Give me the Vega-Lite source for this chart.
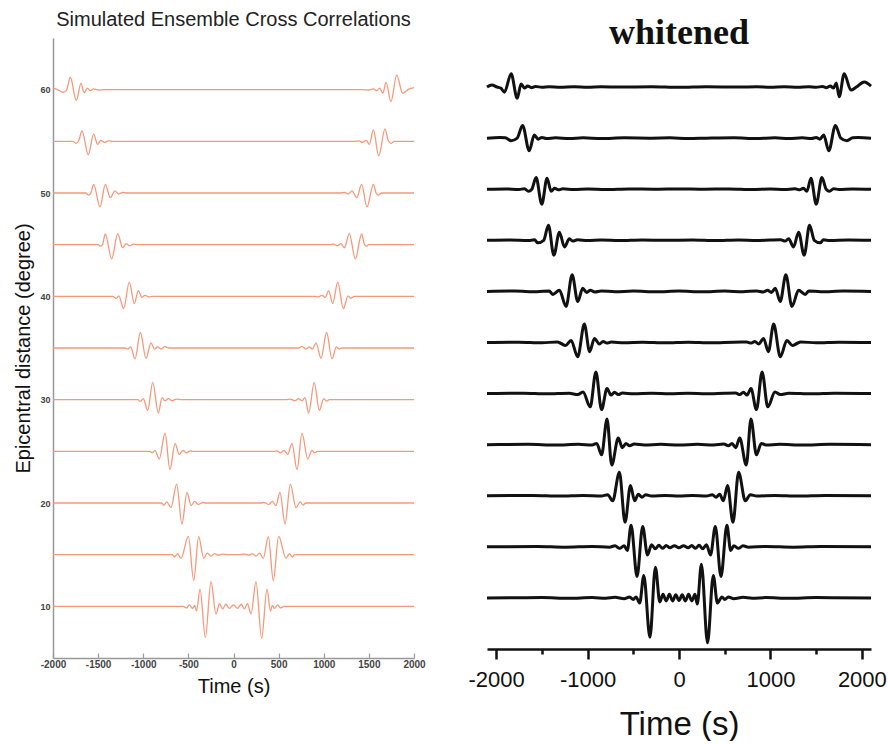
{
"$schema": "https://vega.github.io/schema/vega-lite/v6.json",
"background": "white",
"padding": {"left": 13, "top": 10, "right": 3, "bottom": 0},
"bounds": "flush",
"spacing": 73,
"config": {"view": {"stroke": null}, "font": "Liberation Sans"},
"datasets": {
"L": [
{"d":60,"t":-2000,"y":60.15},{"d":60,"t":-1950,"y":60},{"d":60,"t":-1890,"y":59.75},{"d":60,"t":-1850,"y":59.95},{"d":60,"t":-1808,"y":61.2},{"d":60,"t":-1742,"y":58.94},{"d":60,"t":-1690,"y":60.6},{"d":60,"t":-1655,"y":59.7},{"d":60,"t":-1620,"y":60.15},{"d":60,"t":-1585,"y":59.9},{"d":60,"t":-1550,"y":60.08},{"d":60,"t":-1500,"y":59.97},{"d":60,"t":-1430,"y":60},{"d":60,"t":1430,"y":60},{"d":60,"t":1500,"y":59.97},{"d":60,"t":1550,"y":60.08},{"d":60,"t":1585,"y":59.9},{"d":60,"t":1620,"y":60.15},{"d":60,"t":1655,"y":59.65},{"d":60,"t":1690,"y":60.7},{"d":60,"t":1745,"y":58.84},{"d":60,"t":1808,"y":61.4},{"d":60,"t":1875,"y":59.65},{"d":60,"t":1940,"y":60.05},{"d":60,"t":2000,"y":60.2},
{"d":55,"t":-2000,"y":55},{"d":55,"t":-1780,"y":55},{"d":55,"t":-1745,"y":54.8},{"d":55,"t":-1715,"y":55.05},{"d":55,"t":-1679,"y":56},{"d":55,"t":-1609,"y":53.7},{"d":55,"t":-1550,"y":55.7},{"d":55,"t":-1505,"y":54.7},{"d":55,"t":-1470,"y":55.1},{"d":55,"t":-1430,"y":54.9},{"d":55,"t":-1390,"y":55.05},{"d":55,"t":-1330,"y":55},{"d":55,"t":1330,"y":55},{"d":55,"t":1390,"y":55.05},{"d":55,"t":1430,"y":54.9},{"d":55,"t":1470,"y":55.1},{"d":55,"t":1505,"y":54.7},{"d":55,"t":1550,"y":56.1},{"d":55,"t":1609,"y":53.6},{"d":55,"t":1679,"y":56.2},{"d":55,"t":1715,"y":55.05},{"d":55,"t":1745,"y":54.8},{"d":55,"t":1780,"y":55},{"d":55,"t":2000,"y":55},
{"d":50,"t":-2000,"y":50},{"d":50,"t":-1640,"y":50},{"d":50,"t":-1605,"y":49.8},{"d":50,"t":-1580,"y":50},{"d":50,"t":-1550,"y":50.84},{"d":50,"t":-1479,"y":48.65},{"d":50,"t":-1420,"y":50.84},{"d":50,"t":-1365,"y":49.55},{"d":50,"t":-1313,"y":50.2},{"d":50,"t":-1275,"y":49.9},{"d":50,"t":-1230,"y":50.05},{"d":50,"t":-1170,"y":50},{"d":50,"t":1170,"y":50},{"d":50,"t":1230,"y":50.05},{"d":50,"t":1275,"y":49.9},{"d":50,"t":1313,"y":50.2},{"d":50,"t":1365,"y":49.55},{"d":50,"t":1420,"y":50.84},{"d":50,"t":1479,"y":48.65},{"d":50,"t":1550,"y":50.84},{"d":50,"t":1580,"y":50},{"d":50,"t":1605,"y":49.8},{"d":50,"t":1640,"y":50},{"d":50,"t":2000,"y":50},
{"d":45,"t":-2000,"y":45},{"d":45,"t":-1500,"y":45},{"d":45,"t":-1470,"y":44.85},{"d":45,"t":-1450,"y":45.05},{"d":45,"t":-1420,"y":46.03},{"d":45,"t":-1350,"y":43.62},{"d":45,"t":-1283,"y":46.06},{"d":45,"t":-1228,"y":44.7},{"d":45,"t":-1190,"y":45.1},{"d":45,"t":-1150,"y":44.9},{"d":45,"t":-1110,"y":45.05},{"d":45,"t":-1060,"y":45},{"d":45,"t":1060,"y":45},{"d":45,"t":1110,"y":45.05},{"d":45,"t":1150,"y":44.9},{"d":45,"t":1190,"y":45.1},{"d":45,"t":1228,"y":44.7},{"d":45,"t":1283,"y":46.06},{"d":45,"t":1350,"y":43.62},{"d":45,"t":1420,"y":46.03},{"d":45,"t":1450,"y":45.05},{"d":45,"t":1470,"y":44.85},{"d":45,"t":1500,"y":45},{"d":45,"t":2000,"y":45},
{"d":40,"t":-2000,"y":40},{"d":40,"t":-1340,"y":40},{"d":40,"t":-1300,"y":39.8},{"d":40,"t":-1270,"y":40.05},{"d":40,"t":-1217,"y":38.81},{"d":40,"t":-1155,"y":41.38},{"d":40,"t":-1099,"y":39.3},{"d":40,"t":-1055,"y":40.55},{"d":40,"t":-1015,"y":39.9},{"d":40,"t":-980,"y":40.1},{"d":40,"t":-940,"y":39.95},{"d":40,"t":-900,"y":40},{"d":40,"t":900,"y":40},{"d":40,"t":940,"y":39.95},{"d":40,"t":980,"y":40.1},{"d":40,"t":1015,"y":39.9},{"d":40,"t":1055,"y":40.55},{"d":40,"t":1099,"y":39.3},{"d":40,"t":1155,"y":41.38},{"d":40,"t":1217,"y":38.81},{"d":40,"t":1270,"y":40.05},{"d":40,"t":1300,"y":39.8},{"d":40,"t":1340,"y":40},{"d":40,"t":2000,"y":40},
{"d":35,"t":-2000,"y":35},{"d":35,"t":-1200,"y":35},{"d":35,"t":-1170,"y":34.9},{"d":35,"t":-1140,"y":35.1},{"d":35,"t":-1091,"y":33.94},{"d":35,"t":-1032,"y":36.5},{"d":35,"t":-970,"y":34},{"d":35,"t":-914,"y":35.5},{"d":35,"t":-875,"y":34.9},{"d":35,"t":-840,"y":35.1},{"d":35,"t":-800,"y":34.9},{"d":35,"t":-760,"y":35.15},{"d":35,"t":-720,"y":35},{"d":35,"t":720,"y":35},{"d":35,"t":760,"y":35.15},{"d":35,"t":800,"y":34.9},{"d":35,"t":840,"y":35.1},{"d":35,"t":875,"y":34.9},{"d":35,"t":914,"y":35.5},{"d":35,"t":970,"y":34},{"d":35,"t":1032,"y":36.5},{"d":35,"t":1091,"y":33.94},{"d":35,"t":1140,"y":35.1},{"d":35,"t":1170,"y":34.9},{"d":35,"t":1200,"y":35},{"d":35,"t":2000,"y":35},
{"d":30,"t":-2000,"y":30},{"d":30,"t":-1060,"y":30},{"d":30,"t":-1030,"y":29.85},{"d":30,"t":-1000,"y":30.1},{"d":30,"t":-951,"y":28.97},{"d":30,"t":-895,"y":31.67},{"d":30,"t":-833,"y":28.71},{"d":30,"t":-792,"y":30.2},{"d":30,"t":-760,"y":29.9},{"d":30,"t":-720,"y":30.1},{"d":30,"t":-680,"y":29.9},{"d":30,"t":-630,"y":30.05},{"d":30,"t":-580,"y":30},{"d":30,"t":580,"y":30},{"d":30,"t":630,"y":30.05},{"d":30,"t":680,"y":29.9},{"d":30,"t":720,"y":30.1},{"d":30,"t":760,"y":29.9},{"d":30,"t":792,"y":30.2},{"d":30,"t":833,"y":28.71},{"d":30,"t":895,"y":31.67},{"d":30,"t":951,"y":28.97},{"d":30,"t":1000,"y":30.1},{"d":30,"t":1030,"y":29.85},{"d":30,"t":1060,"y":30},{"d":30,"t":2000,"y":30},
{"d":25,"t":-2000,"y":25},{"d":25,"t":-930,"y":25},{"d":25,"t":-900,"y":24.85},{"d":25,"t":-870,"y":25.1},{"d":25,"t":-822,"y":24.26},{"d":25,"t":-759,"y":26.77},{"d":25,"t":-704,"y":23.23},{"d":25,"t":-648,"y":25.74},{"d":25,"t":-600,"y":24.7},{"d":25,"t":-560,"y":25.1},{"d":25,"t":-520,"y":24.85},{"d":25,"t":-480,"y":25.05},{"d":25,"t":-450,"y":25},{"d":25,"t":450,"y":25},{"d":25,"t":480,"y":25.05},{"d":25,"t":520,"y":24.85},{"d":25,"t":560,"y":25.1},{"d":25,"t":600,"y":24.7},{"d":25,"t":648,"y":25.74},{"d":25,"t":704,"y":23.23},{"d":25,"t":759,"y":26.77},{"d":25,"t":822,"y":24.26},{"d":25,"t":870,"y":25.1},{"d":25,"t":900,"y":24.85},{"d":25,"t":930,"y":25},{"d":25,"t":2000,"y":25},
{"d":20,"t":-2000,"y":20},{"d":20,"t":-800,"y":20},{"d":20,"t":-770,"y":19.8},{"d":20,"t":-740,"y":20.1},{"d":20,"t":-693,"y":19.55},{"d":20,"t":-630,"y":21.83},{"d":20,"t":-571,"y":17.97},{"d":20,"t":-515,"y":21.03},{"d":20,"t":-470,"y":19.75},{"d":20,"t":-430,"y":20.15},{"d":20,"t":-390,"y":19.85},{"d":20,"t":-340,"y":20.05},{"d":20,"t":-300,"y":20},{"d":20,"t":300,"y":20},{"d":20,"t":340,"y":20.05},{"d":20,"t":390,"y":19.85},{"d":20,"t":430,"y":20.15},{"d":20,"t":470,"y":19.75},{"d":20,"t":515,"y":21.03},{"d":20,"t":571,"y":17.97},{"d":20,"t":630,"y":21.83},{"d":20,"t":693,"y":19.55},{"d":20,"t":740,"y":20.1},{"d":20,"t":770,"y":19.8},{"d":20,"t":800,"y":20},{"d":20,"t":2000,"y":20},
{"d":15,"t":-2000,"y":15},{"d":15,"t":-680,"y":15},{"d":15,"t":-650,"y":14.8},{"d":15,"t":-620,"y":15.1},{"d":15,"t":-582,"y":14.65},{"d":15,"t":-500,"y":16.77},{"d":15,"t":-441,"y":12.5},{"d":15,"t":-386,"y":16.74},{"d":15,"t":-330,"y":14.65},{"d":15,"t":-290,"y":15.15},{"d":15,"t":-250,"y":14.85},{"d":15,"t":-210,"y":15.1},{"d":15,"t":-170,"y":14.95},{"d":15,"t":-120,"y":15.05},{"d":15,"t":-60,"y":15},{"d":15,"t":60,"y":15},{"d":15,"t":120,"y":15.05},{"d":15,"t":170,"y":14.95},{"d":15,"t":210,"y":15.1},{"d":15,"t":250,"y":14.85},{"d":15,"t":290,"y":15.15},{"d":15,"t":330,"y":14.65},{"d":15,"t":386,"y":16.74},{"d":15,"t":441,"y":12.5},{"d":15,"t":500,"y":16.77},{"d":15,"t":582,"y":14.65},{"d":15,"t":620,"y":15.1},{"d":15,"t":650,"y":14.8},{"d":15,"t":680,"y":15},{"d":15,"t":2000,"y":15},
{"d":10,"t":-2000,"y":10},{"d":10,"t":-560,"y":10},{"d":10,"t":-520,"y":9.85},{"d":10,"t":-490,"y":10.15},{"d":10,"t":-455,"y":9.8},{"d":10,"t":-430,"y":10.1},{"d":10,"t":-410,"y":9.55},{"d":10,"t":-371,"y":11.67},{"d":10,"t":-312,"y":7},{"d":10,"t":-249,"y":12.4},{"d":10,"t":-194,"y":9.25},{"d":10,"t":-155,"y":10.25},{"d":10,"t":-120,"y":9.75},{"d":10,"t":-85,"y":10.2},{"d":10,"t":-45,"y":9.8},{"d":10,"t":0,"y":10.15},{"d":10,"t":45,"y":9.8},{"d":10,"t":85,"y":10.2},{"d":10,"t":120,"y":9.75},{"d":10,"t":155,"y":10.25},{"d":10,"t":194,"y":9.25},{"d":10,"t":249,"y":12.4},{"d":10,"t":312,"y":6.9},{"d":10,"t":371,"y":11.67},{"d":10,"t":410,"y":9.55},{"d":10,"t":430,"y":10.1},{"d":10,"t":455,"y":9.8},{"d":10,"t":490,"y":10.15},{"d":10,"t":520,"y":9.85},{"d":10,"t":560,"y":10},{"d":10,"t":2000,"y":10}
],
"W": [
{"d":60,"t":-2100,"y":60},{"d":60,"t":-2047,"y":60.2},{"d":60,"t":-1990,"y":60},{"d":60,"t":-1950,"y":59.9},{"d":60,"t":-1909,"y":59.5},{"d":60,"t":-1836,"y":61.3},{"d":60,"t":-1770,"y":58.9},{"d":60,"t":-1727,"y":60.3},{"d":60,"t":-1690,"y":59.9},{"d":60,"t":-1655,"y":60.1},{"d":60,"t":-1615,"y":59.94},{"d":60,"t":-1570,"y":60.06},{"d":60,"t":-1500,"y":59.97},{"d":60,"t":-1420,"y":60.04},{"d":60,"t":-1300,"y":59.97},{"d":60,"t":-1150,"y":60.03},{"d":60,"t":-1000,"y":59.97},{"d":60,"t":-850,"y":60.03},{"d":60,"t":-650,"y":60},{"d":60,"t":-300,"y":60.03},{"d":60,"t":0,"y":59.97},{"d":60,"t":300,"y":60.03},{"d":60,"t":650,"y":60},{"d":60,"t":850,"y":60.03},{"d":60,"t":1000,"y":59.97},{"d":60,"t":1150,"y":60.03},{"d":60,"t":1300,"y":59.97},{"d":60,"t":1420,"y":60.04},{"d":60,"t":1500,"y":59.97},{"d":60,"t":1570,"y":60.06},{"d":60,"t":1615,"y":59.94},{"d":60,"t":1655,"y":60.1},{"d":60,"t":1690,"y":59.9},{"d":60,"t":1720,"y":60.4},{"d":60,"t":1752,"y":59.05},{"d":60,"t":1807,"y":61.3},{"d":60,"t":1880,"y":59.7},{"d":60,"t":1940,"y":60},{"d":60,"t":2025,"y":60.5},{"d":60,"t":2100,"y":60.1},
{"d":55,"t":-2100,"y":55},{"d":55,"t":-1960,"y":55.05},{"d":55,"t":-1900,"y":55.03},{"d":55,"t":-1836,"y":54.75},{"d":55,"t":-1770,"y":55},{"d":55,"t":-1711,"y":56.24},{"d":55,"t":-1638,"y":53.76},{"d":55,"t":-1583,"y":55.3},{"d":55,"t":-1540,"y":54.9},{"d":55,"t":-1500,"y":55.06},{"d":55,"t":-1450,"y":54.96},{"d":55,"t":-1350,"y":55.03},{"d":55,"t":-1200,"y":54.97},{"d":55,"t":-1050,"y":55.03},{"d":55,"t":-850,"y":54.97},{"d":55,"t":-600,"y":55.03},{"d":55,"t":-300,"y":55},{"d":55,"t":-100,"y":55.03},{"d":55,"t":100,"y":54.97},{"d":55,"t":300,"y":55},{"d":55,"t":600,"y":55.03},{"d":55,"t":850,"y":54.97},{"d":55,"t":1050,"y":55.03},{"d":55,"t":1200,"y":54.97},{"d":55,"t":1350,"y":55.03},{"d":55,"t":1450,"y":54.96},{"d":55,"t":1500,"y":55.06},{"d":55,"t":1540,"y":54.9},{"d":55,"t":1583,"y":55.3},{"d":55,"t":1638,"y":53.76},{"d":55,"t":1711,"y":56.24},{"d":55,"t":1770,"y":55},{"d":55,"t":1836,"y":54.75},{"d":55,"t":1900,"y":55.03},{"d":55,"t":1960,"y":55.05},{"d":55,"t":2100,"y":55},
{"d":50,"t":-2100,"y":50},{"d":50,"t":-1900,"y":50.03},{"d":50,"t":-1750,"y":49.97},{"d":50,"t":-1690,"y":50.05},{"d":50,"t":-1647,"y":49.8},{"d":50,"t":-1610,"y":50},{"d":50,"t":-1563,"y":51.14},{"d":50,"t":-1501,"y":48.53},{"d":50,"t":-1443,"y":51.08},{"d":50,"t":-1399,"y":49.8},{"d":50,"t":-1360,"y":50.1},{"d":50,"t":-1320,"y":49.94},{"d":50,"t":-1270,"y":50.04},{"d":50,"t":-1150,"y":49.97},{"d":50,"t":-1000,"y":50.03},{"d":50,"t":-800,"y":49.97},{"d":50,"t":-550,"y":50.03},{"d":50,"t":-250,"y":50},{"d":50,"t":0,"y":50.03},{"d":50,"t":250,"y":50},{"d":50,"t":550,"y":50.03},{"d":50,"t":800,"y":49.97},{"d":50,"t":1000,"y":50.03},{"d":50,"t":1150,"y":49.97},{"d":50,"t":1270,"y":50.04},{"d":50,"t":1320,"y":49.94},{"d":50,"t":1360,"y":50.1},{"d":50,"t":1399,"y":49.8},{"d":50,"t":1443,"y":51.08},{"d":50,"t":1501,"y":48.53},{"d":50,"t":1563,"y":51.14},{"d":50,"t":1610,"y":50},{"d":50,"t":1647,"y":49.8},{"d":50,"t":1690,"y":50.05},{"d":50,"t":1750,"y":49.97},{"d":50,"t":1900,"y":50.03},{"d":50,"t":2100,"y":50},
{"d":45,"t":-2100,"y":45},{"d":45,"t":-1850,"y":45.03},{"d":45,"t":-1650,"y":44.97},{"d":45,"t":-1580,"y":45.05},{"d":45,"t":-1545,"y":44.75},{"d":45,"t":-1480,"y":45},{"d":45,"t":-1428,"y":46.47},{"d":45,"t":-1369,"y":43.53},{"d":45,"t":-1308,"y":45.8},{"d":45,"t":-1253,"y":44.35},{"d":45,"t":-1199,"y":45.15},{"d":45,"t":-1160,"y":44.92},{"d":45,"t":-1110,"y":45.06},{"d":45,"t":-1000,"y":44.97},{"d":45,"t":-850,"y":45.03},{"d":45,"t":-650,"y":44.97},{"d":45,"t":-400,"y":45.03},{"d":45,"t":-150,"y":45},{"d":45,"t":150,"y":45.03},{"d":45,"t":400,"y":44.97},{"d":45,"t":650,"y":45.03},{"d":45,"t":850,"y":44.97},{"d":45,"t":1000,"y":45.03},{"d":45,"t":1110,"y":45.06},{"d":45,"t":1160,"y":44.92},{"d":45,"t":1199,"y":45.15},{"d":45,"t":1253,"y":44.35},{"d":45,"t":1308,"y":45.8},{"d":45,"t":1369,"y":43.53},{"d":45,"t":1428,"y":46.47},{"d":45,"t":1480,"y":45},{"d":45,"t":1545,"y":44.75},{"d":45,"t":1580,"y":45.05},{"d":45,"t":1650,"y":44.97},{"d":45,"t":1850,"y":45.03},{"d":45,"t":2100,"y":45},
{"d":40,"t":-2100,"y":40},{"d":40,"t":-1800,"y":40.03},{"d":40,"t":-1550,"y":39.97},{"d":40,"t":-1420,"y":40.05},{"d":40,"t":-1381,"y":39.7},{"d":40,"t":-1308,"y":40.1},{"d":40,"t":-1235,"y":38.53},{"d":40,"t":-1169,"y":41.63},{"d":40,"t":-1107,"y":39},{"d":40,"t":-1053,"y":40.3},{"d":40,"t":-1010,"y":39.9},{"d":40,"t":-970,"y":40.1},{"d":40,"t":-920,"y":39.94},{"d":40,"t":-850,"y":40.04},{"d":40,"t":-700,"y":39.97},{"d":40,"t":-500,"y":40.03},{"d":40,"t":-250,"y":39.97},{"d":40,"t":0,"y":40.03},{"d":40,"t":250,"y":39.97},{"d":40,"t":500,"y":40.03},{"d":40,"t":700,"y":39.97},{"d":40,"t":850,"y":40.04},{"d":40,"t":920,"y":39.94},{"d":40,"t":970,"y":40.1},{"d":40,"t":1010,"y":39.9},{"d":40,"t":1053,"y":40.3},{"d":40,"t":1107,"y":39},{"d":40,"t":1169,"y":41.63},{"d":40,"t":1235,"y":38.53},{"d":40,"t":1308,"y":40.1},{"d":40,"t":1381,"y":39.7},{"d":40,"t":1420,"y":40.05},{"d":40,"t":1550,"y":39.97},{"d":40,"t":1800,"y":40.03},{"d":40,"t":2100,"y":40},
{"d":35,"t":-2100,"y":35},{"d":35,"t":-1750,"y":35.03},{"d":35,"t":-1500,"y":34.97},{"d":35,"t":-1330,"y":35.05},{"d":35,"t":-1290,"y":34.9},{"d":35,"t":-1240,"y":34.7},{"d":35,"t":-1180,"y":35.2},{"d":35,"t":-1108,"y":33.6},{"d":35,"t":-1035,"y":36.8},{"d":35,"t":-978,"y":34.1},{"d":35,"t":-925,"y":35.4},{"d":35,"t":-871,"y":34.85},{"d":35,"t":-830,"y":35.1},{"d":35,"t":-790,"y":34.94},{"d":35,"t":-740,"y":35.04},{"d":35,"t":-600,"y":34.97},{"d":35,"t":-400,"y":35.03},{"d":35,"t":-150,"y":34.97},{"d":35,"t":100,"y":35.03},{"d":35,"t":350,"y":34.97},{"d":35,"t":600,"y":35.03},{"d":35,"t":740,"y":35.04},{"d":35,"t":790,"y":34.94},{"d":35,"t":830,"y":35.1},{"d":35,"t":871,"y":34.85},{"d":35,"t":925,"y":35.4},{"d":35,"t":978,"y":34.1},{"d":35,"t":1035,"y":36.8},{"d":35,"t":1108,"y":33.6},{"d":35,"t":1180,"y":35.2},{"d":35,"t":1240,"y":34.7},{"d":35,"t":1290,"y":34.9},{"d":35,"t":1330,"y":35.05},{"d":35,"t":1500,"y":34.97},{"d":35,"t":1750,"y":35.03},{"d":35,"t":2100,"y":35},
{"d":30,"t":-2100,"y":30},{"d":30,"t":-1700,"y":30.03},{"d":30,"t":-1450,"y":29.97},{"d":30,"t":-1200,"y":30.03},{"d":30,"t":-1107,"y":29.9},{"d":30,"t":-1050,"y":30.15},{"d":30,"t":-971,"y":28.7},{"d":30,"t":-909,"y":32.1},{"d":30,"t":-847,"y":28.43},{"d":30,"t":-787,"y":30.5},{"d":30,"t":-745,"y":29.85},{"d":30,"t":-705,"y":30.12},{"d":30,"t":-665,"y":29.9},{"d":30,"t":-620,"y":30.05},{"d":30,"t":-500,"y":29.97},{"d":30,"t":-300,"y":30.03},{"d":30,"t":-100,"y":29.97},{"d":30,"t":100,"y":30.03},{"d":30,"t":300,"y":29.97},{"d":30,"t":500,"y":30.03},{"d":30,"t":620,"y":30.05},{"d":30,"t":665,"y":29.9},{"d":30,"t":705,"y":30.12},{"d":30,"t":745,"y":29.85},{"d":30,"t":787,"y":30.5},{"d":30,"t":847,"y":28.43},{"d":30,"t":909,"y":32.1},{"d":30,"t":971,"y":28.7},{"d":30,"t":1050,"y":30.15},{"d":30,"t":1107,"y":29.9},{"d":30,"t":1200,"y":30.03},{"d":30,"t":1450,"y":29.97},{"d":30,"t":1700,"y":30.03},{"d":30,"t":2100,"y":30},
{"d":25,"t":-2100,"y":25},{"d":25,"t":-1650,"y":25.03},{"d":25,"t":-1350,"y":24.97},{"d":25,"t":-1100,"y":25.03},{"d":25,"t":-950,"y":24.97},{"d":25,"t":-900,"y":25.12},{"d":25,"t":-847,"y":24},{"d":25,"t":-787,"y":27.5},{"d":25,"t":-736,"y":23},{"d":25,"t":-664,"y":25.65},{"d":25,"t":-620,"y":24.7},{"d":25,"t":-580,"y":25.12},{"d":25,"t":-540,"y":24.9},{"d":25,"t":-490,"y":25.06},{"d":25,"t":-380,"y":24.97},{"d":25,"t":-200,"y":25.03},{"d":25,"t":0,"y":24.97},{"d":25,"t":200,"y":25.03},{"d":25,"t":380,"y":24.97},{"d":25,"t":490,"y":25.06},{"d":25,"t":540,"y":24.9},{"d":25,"t":580,"y":25.12},{"d":25,"t":620,"y":24.7},{"d":25,"t":664,"y":25.65},{"d":25,"t":736,"y":23},{"d":25,"t":787,"y":27.5},{"d":25,"t":847,"y":24},{"d":25,"t":900,"y":25.12},{"d":25,"t":950,"y":24.97},{"d":25,"t":1100,"y":25.03},{"d":25,"t":1350,"y":24.97},{"d":25,"t":1650,"y":25.03},{"d":25,"t":2100,"y":25},
{"d":20,"t":-2100,"y":20},{"d":20,"t":-1600,"y":20.03},{"d":20,"t":-1300,"y":19.97},{"d":20,"t":-1050,"y":20.03},{"d":20,"t":-850,"y":19.97},{"d":20,"t":-780,"y":20.1},{"d":20,"t":-725,"y":19.5},{"d":20,"t":-652,"y":22.3},{"d":20,"t":-590,"y":17.4},{"d":20,"t":-531,"y":21},{"d":20,"t":-485,"y":19.5},{"d":20,"t":-445,"y":20.15},{"d":20,"t":-405,"y":19.85},{"d":20,"t":-365,"y":20.1},{"d":20,"t":-300,"y":19.97},{"d":20,"t":-150,"y":20.03},{"d":20,"t":0,"y":19.97},{"d":20,"t":150,"y":20.03},{"d":20,"t":300,"y":19.97},{"d":20,"t":365,"y":20.1},{"d":20,"t":405,"y":19.85},{"d":20,"t":445,"y":20.15},{"d":20,"t":485,"y":19.5},{"d":20,"t":531,"y":21},{"d":20,"t":590,"y":17.4},{"d":20,"t":652,"y":22.3},{"d":20,"t":725,"y":19.5},{"d":20,"t":780,"y":20.1},{"d":20,"t":850,"y":19.97},{"d":20,"t":1050,"y":20.03},{"d":20,"t":1300,"y":19.97},{"d":20,"t":1600,"y":20.03},{"d":20,"t":2100,"y":20},
{"d":15,"t":-2100,"y":15},{"d":15,"t":-1550,"y":15.03},{"d":15,"t":-1250,"y":14.97},{"d":15,"t":-950,"y":15.03},{"d":15,"t":-760,"y":14.97},{"d":15,"t":-700,"y":15.1},{"d":15,"t":-650,"y":14.85},{"d":15,"t":-600,"y":15.1},{"d":15,"t":-565,"y":14.65},{"d":15,"t":-524,"y":17.1},{"d":15,"t":-459,"y":12.1},{"d":15,"t":-397,"y":17},{"d":15,"t":-345,"y":14.2},{"d":15,"t":-300,"y":15.2},{"d":15,"t":-260,"y":14.8},{"d":15,"t":-220,"y":15.15},{"d":15,"t":-180,"y":14.85},{"d":15,"t":-140,"y":15.12},{"d":15,"t":-100,"y":14.9},{"d":15,"t":-50,"y":15.1},{"d":15,"t":0,"y":14.9},{"d":15,"t":50,"y":15.1},{"d":15,"t":100,"y":14.9},{"d":15,"t":140,"y":15.12},{"d":15,"t":180,"y":14.85},{"d":15,"t":220,"y":15.15},{"d":15,"t":260,"y":14.8},{"d":15,"t":300,"y":15.2},{"d":15,"t":345,"y":14.2},{"d":15,"t":397,"y":17},{"d":15,"t":459,"y":12.1},{"d":15,"t":524,"y":17.1},{"d":15,"t":565,"y":14.65},{"d":15,"t":600,"y":15.1},{"d":15,"t":650,"y":14.85},{"d":15,"t":700,"y":15.1},{"d":15,"t":760,"y":14.97},{"d":15,"t":950,"y":15.03},{"d":15,"t":1250,"y":14.97},{"d":15,"t":1550,"y":15.03},{"d":15,"t":2100,"y":15},
{"d":10,"t":-2100,"y":10},{"d":10,"t":-1500,"y":10.03},{"d":10,"t":-1200,"y":9.97},{"d":10,"t":-950,"y":10.03},{"d":10,"t":-800,"y":9.97},{"d":10,"t":-700,"y":10.06},{"d":10,"t":-600,"y":9.92},{"d":10,"t":-540,"y":10.1},{"d":10,"t":-500,"y":9.85},{"d":10,"t":-470,"y":10.1},{"d":10,"t":-430,"y":9.5},{"d":10,"t":-385,"y":12.2},{"d":10,"t":-318,"y":6.15},{"d":10,"t":-258,"y":13},{"d":10,"t":-210,"y":9.6},{"d":10,"t":-175,"y":10.35},{"d":10,"t":-140,"y":9.7},{"d":10,"t":-105,"y":10.35},{"d":10,"t":-70,"y":9.7},{"d":10,"t":-35,"y":10.3},{"d":10,"t":0,"y":9.75},{"d":10,"t":35,"y":10.3},{"d":10,"t":70,"y":9.7},{"d":10,"t":105,"y":10.35},{"d":10,"t":140,"y":9.7},{"d":10,"t":175,"y":10.35},{"d":10,"t":200,"y":9.4},{"d":10,"t":245,"y":13.3},{"d":10,"t":312,"y":5.6},{"d":10,"t":375,"y":12.2},{"d":10,"t":420,"y":9.5},{"d":10,"t":470,"y":10.1},{"d":10,"t":500,"y":9.85},{"d":10,"t":540,"y":10.1},{"d":10,"t":600,"y":9.92},{"d":10,"t":700,"y":10.06},{"d":10,"t":800,"y":9.97},{"d":10,"t":950,"y":10.03},{"d":10,"t":1200,"y":9.97},{"d":10,"t":1500,"y":10.03},{"d":10,"t":2100,"y":10}
]
},
"hconcat": [
{
"title": {"text": "Simulated Ensemble Cross Correlations", "font": "Liberation Sans", "fontSize": 20, "fontWeight": "normal", "color": "#222", "anchor": "middle", "offset": 8},
"width": 361,
"height": 620,
"data": {"name": "L"},
"mark": {"type": "line", "color": "#f4997a", "strokeWidth": 1.3, "interpolate": "monotone"},
"encoding": {
"x": {"field": "t", "type": "quantitative", "scale": {"domain": [-2000, 2000], "nice": false},
"axis": {"title": "Time (s)", "titleFont": "Liberation Sans", "titleFontSize": 20, "titleFontWeight": "normal", "titleColor": "#111", "titlePadding": 7,
"values": [-2000,-1500,-1000,-500,0,500,1000,1500,2000], "labelExpr": "toString(datum.value)",
"labelFont": "Liberation Sans", "labelFontSize": 10, "labelFontWeight": "bold", "labelColor": "#444", "labelPadding": 6, "labelFlush": false, "labelOverlap": false,
"tickSize": -5, "tickColor": "#999", "tickWidth": 1.2, "domainColor": "#999", "domainWidth": 1.5, "grid": false}},
"y": {"field": "y", "type": "quantitative", "scale": {"domain": [5, 65], "nice": false, "zero": false},
"axis": {"title": "Epicentral distance (degree)", "titleFont": "Liberation Sans", "titleFontSize": 20, "titleFontWeight": "normal", "titleColor": "#111", "titlePadding": 6,
"values": [10,20,30,40,50,60], "labelFont": "Liberation Sans", "labelFontSize": 9, "labelFontWeight": "bold", "labelColor": "#444", "labelPadding": 3,
"ticks": false, "tickSize": 0, "domainColor": "#999", "domainWidth": 1.5, "grid": false}},
"detail": {"field": "d", "type": "nominal"},
"order": {"field": "t", "type": "quantitative"}
}
},
{
"title": {"text": "whitened", "font": "Liberation Serif", "fontSize": 36, "fontWeight": "bold", "color": "#111", "anchor": "middle", "offset": -14},
"width": 384,
"height": 611,
"data": {"name": "W"},
"mark": {"type": "line", "color": "#111", "strokeWidth": 3, "interpolate": "monotone", "strokeJoin": "round"},
"encoding": {
"x": {"field": "t", "type": "quantitative", "scale": {"domain": [-2100, 2100], "nice": false},
"axis": {"title": "Time (s)", "titleFont": "Liberation Sans", "titleFontSize": 33, "titleFontWeight": "normal", "titleColor": "#111", "titlePadding": 18,
"values": [-2000,-1500,-1000,-500,0,500,1000,1500,2000], "labelExpr": "datum.value % 1000 === 0 ? toString(datum.value) : ''",
"labelFont": "Liberation Sans", "labelFontSize": 22, "labelColor": "#111", "labelPadding": 10, "labelFlush": false, "labelOverlap": false,
"tickSize": {"condition": {"test": "datum.value % 1000 === 0", "value": 10}, "value": 5}, "tickColor": "#111", "tickWidth": 2.5, "domainColor": "#111", "domainWidth": 2.5, "grid": false}},
"y": {"field": "y", "type": "quantitative", "scale": {"domain": [5, 64.8], "nice": false, "zero": false}, "axis": null},
"detail": {"field": "d", "type": "nominal"},
"order": {"field": "t", "type": "quantitative"}
}
}
]
}
